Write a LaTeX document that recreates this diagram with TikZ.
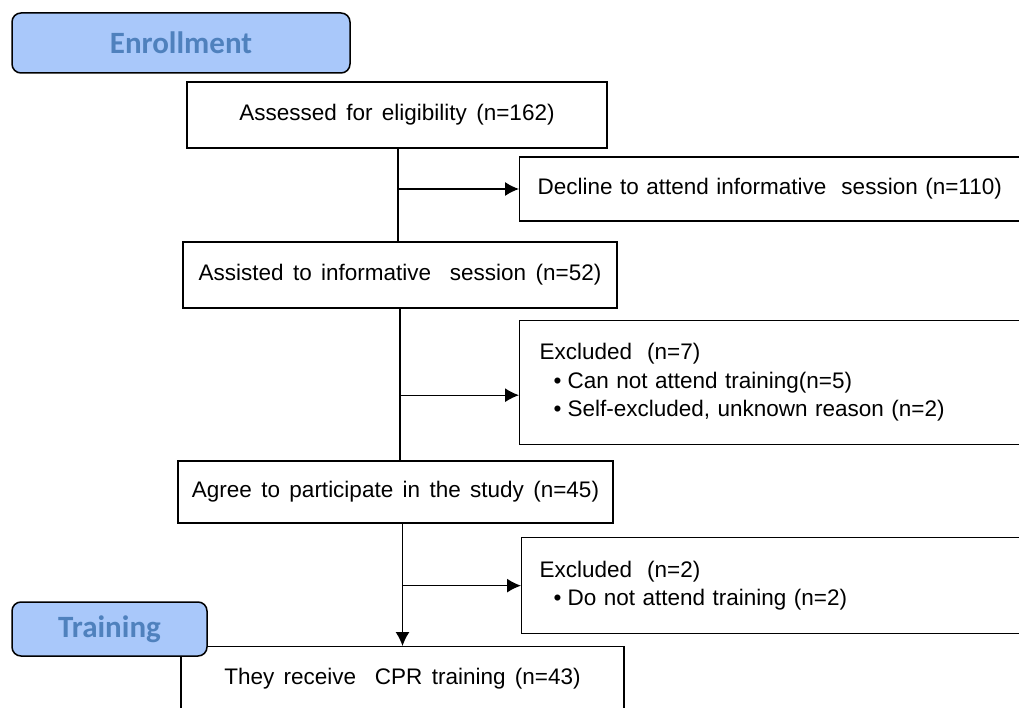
\documentclass[tikz,border=0pt]{standalone}
\usepackage{fontspec}
\setmainfont{Liberation Sans}[WordSpace=1.5]
\newfontfamily\hdrfont{Carlito}
\usetikzlibrary{arrows.meta,calc}
\definecolor{hdrfill}{RGB}{169,200,250}
\definecolor{hdrtext}{RGB}{79,129,189}
\begin{document}
\begin{tikzpicture}[x=1pt,y=-1pt,
  box/.style={draw, line width=1.3pt, inner sep=0pt, font=\fontsize{22.5}{28.5}\selectfont},
  hdr/.style={draw, line width=1.5pt, rounded corners=9pt, fill=hdrfill, text=hdrtext,
    inner sep=0pt, font=\hdrfont\bfseries\fontsize{31}{31}\selectfont},
  conn/.style={line width=1.3pt},
  arr/.style={line width=1.3pt, -{Latex[length=14pt,width=14pt]}}]
\clip (0,0) rectangle (1019,708);
\fill[white] (0,0) rectangle (1019,708);

\node[hdr, minimum width=338pt, minimum height=60pt] (enroll) at (181,43) {Enrollment};

\node[box, minimum width=420pt, minimum height=66pt] (assessed) at (397,115) {Assessed for eligibility (n=162)};

\node[box, anchor=west, minimum height=64pt, text width=484pt, inner xsep=18pt, align=left] (decline) at (519,189) {Decline to attend informative\ \ session (n=110)};

\node[box, minimum width=434pt, minimum height=66pt] (assisted) at (400,275) {Assisted to informative\ \ session (n=52)};

\node[box, anchor=north west, minimum height=124pt, text width=480pt, inner xsep=20pt, align=left] (excl7) at (519,320)
 {Excluded\ \ (n=7)\\
  \hspace*{14pt}•\hspace{6pt}Can not attend training(n=5)\\
  \hspace*{14pt}•\hspace{6pt}Self-excluded,\ unknown\ reason\ (n=2)};

\node[box, minimum width=435pt, minimum height=62pt] (agree) at (395.5,492) {Agree to participate in the study (n=45)};

\node[box, anchor=north west, minimum height=96pt, text width=480pt, inner xsep=18pt, align=left] (excl2) at (521,537)
 {Excluded\ \ (n=2)\\
  \hspace*{14pt}•\hspace{6pt}Do not attend training (n=2)};

\node[box, anchor=north, minimum width=443pt, text height=38pt, text depth=70pt] (cpr) at (402.5,646) {They receive\ \ CPR training (n=43)};

\node[hdr, minimum width=195pt, minimum height=54pt] (train) at (109.5,629) {Training};

% connectors
\draw[conn] ($(assessed.south)+(1,0)$) coordinate (v1) -- (v1 |- assisted.north);
\draw[arr] (v1 |- decline.west) -- (decline.west);

\draw[conn] (assisted.south) -- (assisted.south |- agree.north);
\coordinate (e7in) at ($(excl7.north west)!0.6!(excl7.south west)$);
\draw[arr] (assisted.south |- e7in) -- (e7in);

\draw[arr] (agree.south -| cpr.north) -- (cpr.north);
\draw[arr] (cpr.north |- excl2.west) -- (excl2.west);
\end{tikzpicture}
\end{document}
